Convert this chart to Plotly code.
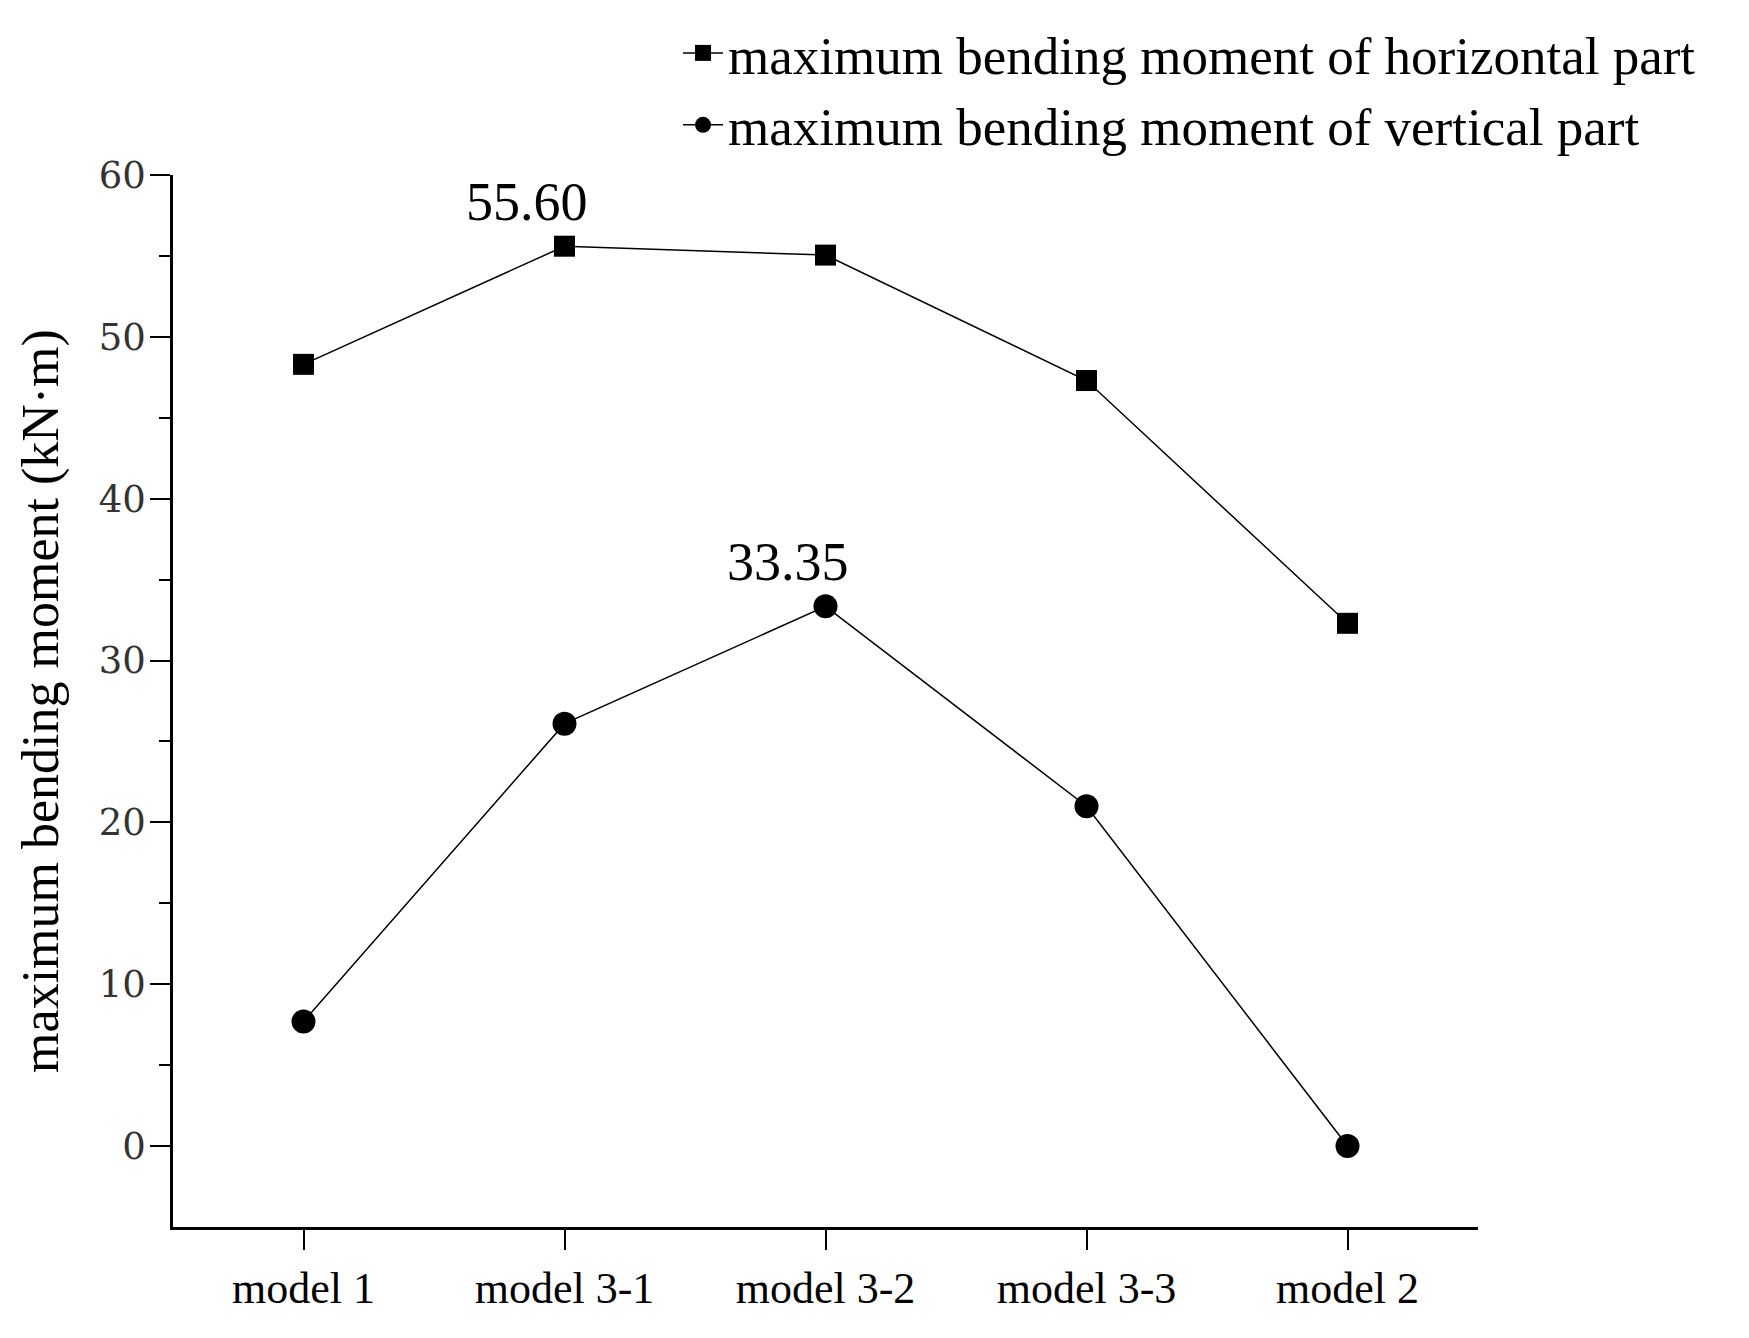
import plotly.graph_objects as go

# categories along the x axis
models = ["model 1", "model 3-1", "model 3-2", "model 3-3", "model 2"]
# maximum bending moment (kN·m)
horizontal = [48.3, 55.6, 55.05, 47.3, 32.3]
vertical = [7.7, 26.1, 33.35, 21.0, 0.0]
# labelled peaks
peak_h = ("model 3-1", 55.60, "55.60")
peak_v = ("model 3-2", 33.35, "33.35")

serif = "Liberation Serif, Times New Roman, serif"

fig = go.Figure()
fig.add_trace(go.Scatter(
    x=models, y=horizontal, mode="lines+markers",
    name="maximum bending moment of horizontal part",
    line=dict(color="black", width=1.5),
    marker=dict(symbol="square", size=21, color="black"),
))
fig.add_trace(go.Scatter(
    x=models, y=vertical, mode="lines+markers",
    name="maximum bending moment of vertical part",
    line=dict(color="black", width=1.5),
    marker=dict(symbol="circle", size=24, color="black"),
))

for xv, yv, txt in [peak_h, peak_v]:
    fig.add_annotation(x=xv, y=yv, text=txt, showarrow=False,
                       xshift=-38, yshift=44,
                       font=dict(family=serif, size=54, color="black"))

fig.update_layout(
    width=1749, height=1338,
    margin=dict(l=165, r=279, t=167, b=119, autoexpand=False),
    plot_bgcolor="white", paper_bgcolor="white",
    font=dict(family=serif, color="black"),
    showlegend=True,
    legend=dict(x=0.387, y=1.155, xref="paper", yref="paper",
                xanchor="left", yanchor="top",
                font=dict(family=serif, size=53, color="black"),
                bgcolor="rgba(0,0,0,0)", itemwidth=40, tracegroupgap=0),
)
fig.update_xaxes(
    type="category", range=[-0.5, 4.5],
    showline=True, linecolor="black", linewidth=2.5,
    ticks="outside", ticklen=20, tickwidth=2, tickcolor="black",
    tickfont=dict(family=serif, size=44, color="black"),
    showgrid=False, zeroline=False, mirror=False,
)
fig.update_yaxes(
    range=[-5, 60], tickvals=[0, 10, 20, 30, 40, 50, 60],
    showline=True, linecolor="black", linewidth=2.5,
    ticks="outside", ticklen=20, tickwidth=2, tickcolor="black",
    minor=dict(tickvals=[5, 15, 25, 35, 45, 55], ticks="outside",
               ticklen=11, tickwidth=2, tickcolor="black"),
    tickfont=dict(family="DejaVu Serif, serif", size=37, color="#333333"),
    ticklabelstandoff=-3,
    title=dict(text="maximum bending moment (kN·m)",
               font=dict(family=serif, size=52, color="black"), standoff=24),
    showgrid=False, zeroline=False,
)

fig.write_html("out.html")
